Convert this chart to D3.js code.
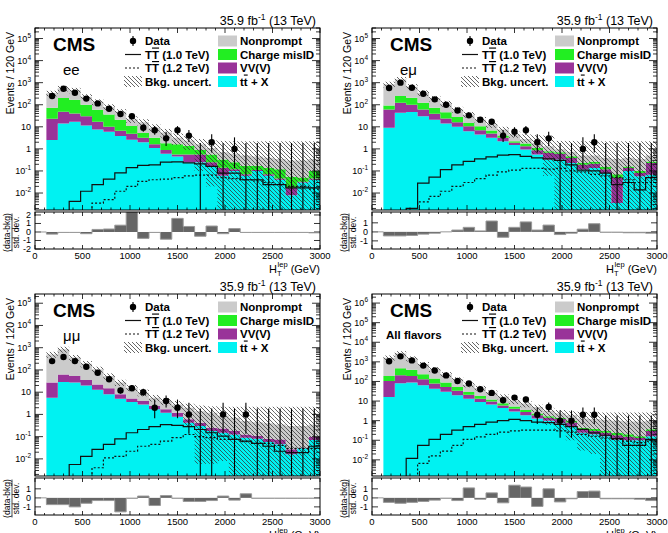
<!DOCTYPE html>
<html>
<head>
<meta charset="utf-8">
<script src="https://cdn.jsdelivr.net/npm/d3@7"></script>
<style>
body { margin: 0; background: #fff; }
svg { display: block; font-family: "Liberation Sans", Arial, Helvetica, sans-serif; }
</style>
</head>
<body>
<svg width="668" height="533"></svg>
<script>
var WIDTH = 668, HEIGHT = 533;
var BIN = 120;
var edges = d3.range(0, 3001, BIN);
var xTicks = [0, 500, 1000, 1500, 2000, 2500, 3000];

// ee
var ee_ttx = [0, 2.5, 14, 17, 11.5, 7.6, 5.9, 3.8, 2.6, 2.0, 1.1, 0.6, 0.45, 0.25, 0.25, 0.15, 0.06, 0.1, 0.06, 0.1, 0.06, 0.04, 0.008, 0.03, 0.04];
var ee_vv = [0, 20.5, 34, 23, 18.5, 9.4, 4.1, 2.8, 2.2, 1.2, 0.5, 0.3, 0.1, 0.3, 0.3, 0.1, 0.08, 0.02, 0.01, 0.01, 0.01, 0.005, 0.009, 0.002, 0.005];
var ee_misid = [0, 50, 152, 130, 70, 43, 26, 14.4, 6.2, 2.1, 1.6, 0.9, 1.05, 0.85, 0.35, 0.3, 0.19, 0.13, 0.1, 0.06, 0.07, 0.075, 0.038, 0.018, 0.055];
var ee_np = [0, 257, 360, 280, 130, 75, 44, 27, 11, 10.7, 5.8, 3.7, 1.6, 1.0, 0.7, 0.55, 0.37, 0.35, 0.33, 0.28, 0.26, 0.23, 0.245, 0.25, 0.25];
var ee_bandHi = [0, 430, 720, 580, 300, 175, 105, 63, 30, 22, 13, 8, 5, 3.8, 2.8, 2.4, 2.3, 2.2, 2.2, 2.2, 2.2, 2.2, 2.2, 2.2, 2.2];
var ee_bandLo = [0, 240, 400, 330, 165, 95, 57, 34, 15, 11, 6, 3.2, 1.5, 0.9, 0.1, 0.02, 0, 0, 0, 0, 0, 0, 0, 0, 0];
var ee_tt10 = [0, 0, 0, 0.0042, 0.012, 0.024, 0.043, 0.081, 0.14, 0.18, 0.19, 0.25, 0.26, 0.23, 0.21, 0.16, 0.08, 0.08, 0.04, 0.04, 0.024, 0.024, 0.017, 0.017, 0.017];
var ee_tt12 = [0, 0, 0, 0, 0, 0.0035, 0.005, 0.012, 0.02, 0.034, 0.04, 0.043, 0.05, 0.06, 0.065, 0.065, 0.05, 0.045, 0.04, 0.035, 0.03, 0.025, 0.02, 0.02, 0.015];
var ee_data = [null, 250, 530, 350, 190, 115, 66, 38, 30, 9, 7, 3, 7, 4, 0, 2, 0, 1, 0, 0, 0, 0, 0, 0, 0];
var ee_pull = [0, -0.25, -0.05, -0.05, -0.2, 0.3, 0.35, 0.8, 2.5, -0.75, -0.05, -0.85, 1.6, 0.65, -0.5, 0.7, -0.2, 0.4, -0.05, -0.05, -0.05, -0.05, -0.05, -0.05, -0.1];

// e mu
var em_ttx = [0, 9, 43, 47, 30, 21, 14, 10, 6.3, 4.5, 3.2, 2.2, 1.5, 0.93, 0.55, 0.33, 0.33, 0.23, 0.115, 0.137, 0.08, 0.0035, 0.1, 0.057, 0.068];
var em_vv = [0, 52, 80, 53, 31, 18, 10, 6, 4.4, 2.5, 1.8, 1.0, 0.4, 0.37, 0.32, 0.33, 0.27, 0.16, 0.075, 0.073, 0.04, 0.0445, 0.037, 0.023, 0.162];
var em_misid = [0, 32, 127, 110, 62, 34, 22, 12, 4.3, 3.7, 1.8, 0.8, 0.3, 0.45, 0.23, 0.12, 0.1, 0.07, 0.04, 0.05, 0.03, 0.022, 0.023, 0.02, 0.04];
var em_np = [0, 747, 1150, 450, 227, 122, 69, 33, 21, 10.3, 5.9, 3.6, 2.3, 1.05, 0.8, 0.52, 0.25, 0.29, 0.27, 0.24, 0.25, 0.28, 0.24, 0.25, 0.23];
var em_bandHi = [0, 1100, 1800, 860, 450, 250, 150, 80, 47, 28, 17, 10, 6, 4.5, 4.2, 4, 2.3, 2.3, 2.2, 2.2, 2.2, 2.2, 2.2, 2.2, 2.2];
var em_bandLo = [0, 600, 1000, 480, 250, 140, 80, 44, 26, 15, 9, 5.5, 3.2, 1.8, 0.6, 0.06, 0, 0, 0, 0, 0, 0, 0, 0, 0];
var em_tt10 = [0, 0, 0, 0.002, 0.028, 0.053, 0.115, 0.19, 0.27, 0.35, 0.43, 0.52, 0.55, 0.46, 0.39, 0.35, 0.3, 0.19, 0.11, 0.1, 0.08, 0.024, 0.03, 0.014, 0.05];
var em_tt12 = [0, 0, 0, 0, 0.004, 0.007, 0.012, 0.02, 0.03, 0.045, 0.065, 0.09, 0.11, 0.13, 0.13, 0.12, 0.13, 0.1, 0.09, 0.07, 0.06, 0.05, 0.04, 0.03, 0.03];
var em_data = [null, 570, 1000, 590, 315, 175, 100, 55, 33, 21, 17, 4, 6, 7, 2, 3, 0, 0, 1, 2, 0, 0, 0, 0, 0];
var em_pull = [0, -0.45, -0.45, -0.4, -0.25, -0.15, 0, 0.2, 0.5, 0.1, 1.2, -0.6, 0.5, 1.1, 0.2, 0.75, -0.3, -0.15, 0.3, 0.9, -0.05, -0.05, -0.1, -0.1, -0.15];

// mu mu
var mm_ttx = [0, 5.6, 29, 27, 20, 13, 8, 5, 3.6, 2.8, 1.7, 1.2, 0.79, 0.42, 0.3, 0.18, 0.15, 0.125, 0.09, 0.08, 0.057, 0.045, 0.016, 0.03, 0.07];
var mm_vv = [0, 21.4, 34, 26, 15, 9, 7, 3, 1.6, 1.2, 0.7, 0.5, 0.41, 0.18, 0.12, 0.07, 0.08, 0.055, 0.035, 0.03, 0.023, 0.03, 0.011, 0.002, 0.03];
var mm_misid = [0, 0, 0, 0, 0, 0, 0, 0, 0, 0, 0, 0, 0, 0, 0, 0, 0, 0, 0, 0, 0, 0, 0, 0, 0];
var mm_np = [0, 473, 787, 307, 155, 85, 38, 19, 10.8, 5.5, 3.2, 2.3, 1.6, 1.4, 0.98, 0.95, 0.67, 0.52, 0.375, 0.34, 0.32, 0.275, 0.273, 0.268, 0.25];
var mm_bandHi = [0, 650, 1100, 470, 250, 140, 70, 36, 21, 13, 7.5, 5.5, 4, 3, 2.5, 2.3, 2.2, 2.2, 2.2, 2.2, 2.2, 2.2, 2.2, 2.2, 2.2];
var mm_bandLo = [0, 350, 600, 250, 130, 75, 37, 19, 11, 6.5, 3.8, 2.6, 1.6, 0.3, 0.006, 0.006, 0.008, 0, 0, 0, 0, 0, 0, 0, 0];
var mm_tt10 = [0, 0, 0, 0.0056, 0.013, 0.027, 0.045, 0.08, 0.15, 0.21, 0.28, 0.35, 0.32, 0.28, 0.21, 0.15, 0.105, 0.075, 0.063, 0.05, 0.037, 0.022, 0.019, 0.019, 0.037];
var mm_tt12 = [0, 0, 0, 0, 0, 0.004, 0.011, 0.013, 0.022, 0.037, 0.045, 0.063, 0.09, 0.125, 0.1, 0.09, 0.075, 0.075, 0.06, 0.05, 0.05, 0.04, 0.03, 0.03, 0.03];
var mm_data = [null, 250, 380, 250, 140, 75, 38, 12, 15, 10, 2, 4, 2, 1, 0, 0, 1, 0, 1, 0, 0, 0, 0, 0, 0];
var mm_pull = [0, -0.75, -0.75, -1.0, -0.6, -0.3, -0.3, -1.55, -0.05, 0.2, -0.85, 0.25, -0.05, -0.4, -0.4, -0.3, 0.2, -0.25, 0.45, -0.05, -0.05, -0.05, -0.05, -0.05, -0.05];

// all flavors
var all_ttx = [0, 16, 81, 88, 64, 43, 30, 20, 13, 9, 6.6, 4.4, 2.9, 1.9, 1.3, 1.0, 0.73, 0.53, 0.24, 0.2, 0.16, 0.11, 0.1, 0.1, 0.16];
var all_vv = [0, 91, 129, 102, 66, 35, 22, 14, 8, 4, 2.8, 1.6, 1.2, 0.9, 0.6, 0.4, 0.47, 0.27, 0.12, 0.1, 0.08, 0.07, 0.05, 0.03, 0.14];
var all_misid = [0, 83, 260, 200, 105, 62, 36, 18, 8, 5, 2.6, 1.7, 1.1, 0.7, 0.4, 0.3, 0.2, 0.2, 0.08, 0.09, 0.06, 0.06, 0.05, 0.03, 0.06];
var all_np = [0, 1410, 2230, 1090, 525, 280, 147, 78, 41, 29, 15, 9.3, 5.3, 4.0, 2.7, 1.5, 1.0, 0.9, 0.86, 0.81, 0.8, 0.76, 0.7, 0.74, 0.64];
var all_bandHi = [0, 2100, 3500, 1900, 980, 540, 300, 165, 90, 60, 35, 22, 14, 10, 6.5, 4.5, 3.5, 3, 2.8, 2.8, 2.6, 2.6, 2.6, 2.6, 2.6];
var all_bandLo = [0, 1150, 1900, 1050, 540, 300, 170, 95, 50, 34, 19, 12, 7, 4.8, 2.8, 0.6, 0.3, 0.1, 0.03, 0.02, 0, 0, 0, 0, 0];
var all_tt10 = [0, 0, 0, 0.012, 0.055, 0.11, 0.2, 0.33, 0.5, 0.65, 0.85, 1.0, 1.17, 1.0, 0.85, 0.8, 0.65, 0.5, 0.36, 0.24, 0.18, 0.12, 0.055, 0.055, 0.11];
var all_tt12 = [0, 0, 0, 0, 0.0066, 0.016, 0.028, 0.055, 0.11, 0.15, 0.2, 0.26, 0.3, 0.33, 0.33, 0.33, 0.3, 0.26, 0.2, 0.16, 0.13, 0.11, 0.09, 0.075, 0.09];
var all_data = [null, 1070, 1910, 1190, 645, 365, 204, 105, 78, 40, 26, 11, 15, 12, 2, 5, 1, 1, 2, 2, 0, 0, 0, 0, 0];
var all_pull = [0, -0.5, -0.6, -0.5, -0.4, -0.25, -0.05, -0.3, 1.1, -0.15, 0.55, -0.55, 1.4, 1.2, -0.95, 1.0, -0.45, -0.1, 0.7, 0.75, -0.1, -0.1, -0.1, -0.15, -0.3];

var colors = { ttx: '#00f2f2', vv: '#993399', misid: '#22ee22', np: '#cbcbcb' };
var legendLeft = ['Data', 'TT 1.0', 'TT 1.2', 'Bkg. uncert.'];
var legendRight = [['np', 'Nonprompt'], ['misid', 'Charge misID'], ['vv', 'VV(V)'], ['ttx', 'tt + X']];

var channels = [
    { id: 'ee', label: 'ee', boldLabel: false, left: 35, oy: 0, dom: [0.0017, 3e5], pullDom: [-2, 2.35], pullTicks: [-2, -1, 0, 1, 2],
      ttx: ee_ttx, vv: ee_vv, misid: ee_misid, np: ee_np, hi: ee_bandHi, lo: ee_bandLo, tt10: ee_tt10, tt12: ee_tt12, data: ee_data, pull: ee_pull },
    { id: 'em', label: 'e\u03bc', boldLabel: false, left: 372, oy: 0, dom: [0.0017, 3e5], pullDom: [-1.9, 2.2], pullTicks: [-1, 0, 1],
      ttx: em_ttx, vv: em_vv, misid: em_misid, np: em_np, hi: em_bandHi, lo: em_bandLo, tt10: em_tt10, tt12: em_tt12, data: em_data, pull: em_pull },
    { id: 'mm', label: '\u03bc\u03bc', boldLabel: false, left: 35, oy: 266, dom: [0.0017, 2.6e5], pullDom: [-1.9, 2.2], pullTicks: [-1, 0, 1],
      ttx: mm_ttx, vv: mm_vv, misid: mm_misid, np: mm_np, hi: mm_bandHi, lo: mm_bandLo, tt10: mm_tt10, tt12: mm_tt12, data: mm_data, pull: mm_pull },
    { id: 'all', label: 'All flavors', boldLabel: true, left: 372, oy: 266, dom: [0.0015, 2.9e6], pullDom: [-1.9, 2.2], pullTicks: [-1, 0, 1],
      ttx: all_ttx, vv: all_vv, misid: all_misid, np: all_np, hi: all_bandHi, lo: all_bandLo, tt10: all_tt10, tt12: all_tt12, data: all_data, pull: all_pull }
];

var svg = d3.select('svg').attr('width', WIDTH).attr('height', HEIGHT);
var defs = svg.append('defs');
var hatch = defs.append('pattern').attr('id', 'hatch')
    .attr('patternUnits', 'userSpaceOnUse').attr('width', 4).attr('height', 4);
hatch.append('path').attr('d', 'M-1,3 l2,2 M0,0 l4,4 M3,-1 l2,2')
    .attr('stroke', '#333').attr('stroke-width', 0.75);

function errUp(n) { return n + Math.sqrt(n + 0.75) + 1; }
function errLo(n) { return n > 0 ? n - Math.sqrt(n - 0.25) : 0; }

function ttbar(sel, mass) {
    sel.append('tspan').text('T');
    sel.append('tspan').style('text-decoration', 'overline').text('T');
    sel.append('tspan').text(' (' + mass + ' TeV)');
}

function drawPanel(c) {
    var g = svg.append('g').attr('transform', 'translate(0,' + c.oy + ')');
    var L = c.left, R = c.left + 285;
    var TOP = 28, BOT = 210, RTOP = 212, RBOT = 249;
    var x = d3.scaleLinear().domain([0, 3000]).range([L, R]);
    var y = d3.scaleLog().domain(c.dom).range([BOT, TOP]);
    var r = d3.scaleLinear().domain(c.pullDom).range([RBOT, RTOP]);
    var yc = function(v) { return v > c.dom[0] ? y(v) : BOT + 5; };

    // clip rects live in the group's own (translated) space
    defs.append('clipPath').attr('id', 'clip-' + c.id)
        .append('rect').attr('x', L).attr('y', TOP).attr('width', 285).attr('height', BOT - TOP);
    defs.append('clipPath').attr('id', 'rclip-' + c.id)
        .append('rect').attr('x', L).attr('y', RTOP).attr('width', 285).attr('height', RBOT - RTOP);

    var plot = g.append('g').attr('clip-path', 'url(#clip-' + c.id + ')');

    // stacked backgrounds
    var rows = edges.map(function(e, i) {
        var k = Math.min(i, 24);
        return { x0: e, ttx: c.ttx[k], vv: c.vv[k], misid: c.misid[k], np: c.np[k] };
    });
    var stack = d3.stack().keys(['ttx', 'vv', 'misid', 'np'])(rows);
    var area = d3.area().curve(d3.curveStepAfter)
        .x(function(d) { return x(d.data.x0); })
        .y0(function(d) { return yc(d[0]); })
        .y1(function(d) { return d[1] > d[0] ? yc(d[1]) : yc(d[0]); });
    plot.selectAll('path.layer').data(stack).enter().append('path')
        .attr('class', 'layer')
        .attr('fill', function(d) { return colors[d.key]; })
        .attr('d', area);

    // uncertainty band
    plot.selectAll('rect.band').data(c.hi.map(function(h, i) { return { i: i, hi: h, lo: c.lo[i] }; })
        .filter(function(d) { return d.hi > 0; }))
        .enter().append('rect').attr('class', 'band')
        .attr('x', function(d) { return x(edges[d.i]); })
        .attr('width', x(BIN) - x(0))
        .attr('y', function(d) { return y(d.hi); })
        .attr('height', function(d) { return yc(d.lo) - y(d.hi); })
        .attr('fill', 'url(#hatch)');

    // signal lines
    var sigLine = d3.line().curve(d3.curveStepAfter)
        .x(function(d, i) { return x(edges[i]); })
        .y(function(d) { return yc(d); });
    [[c.tt10, null], [c.tt12, '2,2']].forEach(function(s) {
        var vals = s[0].concat([s[0][24]]);
        plot.append('path').attr('d', sigLine(vals))
            .attr('fill', 'none').attr('stroke', '#111').attr('stroke-width', 1.2)
            .attr('stroke-dasharray', s[1]);
    });

    // data
    var pts = c.data.map(function(n, i) { return { n: n, i: i }; }).filter(function(d) { return d.n !== null; });
    plot.selectAll('line.err').data(pts).enter().append('line')
        .attr('x1', function(d) { return x(edges[d.i] + BIN / 2); })
        .attr('x2', function(d) { return x(edges[d.i] + BIN / 2); })
        .attr('y1', function(d) { return y(d.n > 0 ? errUp(d.n) : 1.84); })
        .attr('y2', function(d) { return yc(errLo(d.n)); })
        .attr('stroke', '#000').attr('stroke-width', 1.1);
    plot.selectAll('circle.pt').data(pts.filter(function(d) { return d.n > 0; })).enter().append('circle')
        .attr('cx', function(d) { return x(edges[d.i] + BIN / 2); })
        .attr('cy', function(d) { return y(d.n); })
        .attr('r', 3.2).attr('fill', '#000');

    // frame + ticks (main)
    g.append('rect').attr('x', L).attr('y', TOP).attr('width', 285).attr('height', BOT - TOP)
        .attr('fill', 'none').attr('stroke', '#000').attr('stroke-width', 1);
    var ticks = g.append('g').attr('stroke', '#000').attr('stroke-width', 0.8);
    var k0 = Math.ceil(Math.log10(c.dom[0])), k1 = Math.floor(Math.log10(c.dom[1]));
    var decades = d3.range(k0 - 1, k1 + 1);
    decades.forEach(function(k) {
        for (var m = 1; m < 10; m++) {
            var v = m * Math.pow(10, k);
            if (v < c.dom[0] || v > c.dom[1]) continue;
            var len = m === 1 ? 8 : 4;
            ticks.append('line').attr('x1', L).attr('x2', L + len).attr('y1', y(v)).attr('y2', y(v));
            ticks.append('line').attr('x1', R).attr('x2', R - len).attr('y1', y(v)).attr('y2', y(v));
        }
    });
    d3.range(0, 3001, 100).forEach(function(t) {
        var len = t % 500 === 0 ? 5 : 2.5;
        ticks.append('line').attr('x1', x(t)).attr('x2', x(t)).attr('y1', BOT).attr('y2', BOT - len);
        ticks.append('line').attr('x1', x(t)).attr('x2', x(t)).attr('y1', TOP).attr('y2', TOP + len);
        ticks.append('line').attr('x1', x(t)).attr('x2', x(t)).attr('y1', RBOT).attr('y2', RBOT - len * 0.8);
        ticks.append('line').attr('x1', x(t)).attr('x2', x(t)).attr('y1', RTOP).attr('y2', RTOP + len * 0.8);
    });
    d3.range(k0, k1 + 1).forEach(function(k) {
        var t = g.append('text').attr('x', L - 4).attr('y', y(Math.pow(10, k)) + 3)
            .attr('text-anchor', 'end').attr('font-size', '9px');
        if (k === 0) t.text('1');
        else if (k === 1) t.text('10');
        else {
            t.append('tspan').text('10');
            t.append('tspan').attr('dy', -4).attr('font-size', '6.5px').text(k < 0 ? '-' + (-k) : k);
        }
    });

    // ratio panel
    var rplot = g.append('g').attr('clip-path', 'url(#rclip-' + c.id + ')');
    rplot.selectAll('rect.pull').data(c.pull.map(function(v, i) { return { v: v, i: i }; }))
        .enter().append('rect')
        .attr('x', function(d) { return x(edges[d.i]); })
        .attr('width', x(BIN) - x(0))
        .attr('y', function(d) { return r(Math.max(0, d.v)); })
        .attr('height', function(d) { return Math.abs(r(d.v) - r(0)); })
        .attr('fill', '#666');
    var pullLine = d3.line().curve(d3.curveStepAfter)
        .x(function(d, i) { return x(edges[i]); })
        .y(function(d) { return r(d); });
    rplot.append('path').attr('d', pullLine(c.pull.concat([c.pull[24]])))
        .attr('fill', 'none').attr('stroke', '#999').attr('stroke-width', 1);
    g.append('rect').attr('x', L).attr('y', RTOP).attr('width', 285).attr('height', RBOT - RTOP)
        .attr('fill', 'none').attr('stroke', '#000').attr('stroke-width', 1);
    c.pullTicks.forEach(function(t) {
        ticks.append('line').attr('x1', L).attr('x2', L + 6).attr('y1', r(t)).attr('y2', r(t));
        ticks.append('line').attr('x1', R).attr('x2', R - 6).attr('y1', r(t)).attr('y2', r(t));
        g.append('text').attr('x', L - 4).attr('y', r(t) + 3).attr('text-anchor', 'end')
            .attr('font-size', '9px').text(t);
    });
    xTicks.forEach(function(t) {
        g.append('text').attr('x', x(t)).attr('y', RBOT + 10).attr('text-anchor', 'middle')
            .attr('font-size', '9.5px').text(t);
    });

    // axis titles
    g.append('text').attr('transform', 'translate(' + (L - 21) + ',' + (TOP + 4) + ') rotate(-90)')
        .attr('text-anchor', 'end').attr('font-size', '10.5px').text('Events / 120 GeV');
    var rt = g.append('g').attr('transform', 'translate(' + (L - 25) + ',' + ((RTOP + RBOT) / 2 + 2) + ') rotate(-90)');
    rt.append('text').attr('y', 0).attr('text-anchor', 'middle').attr('font-size', '8.5px').text('(data-bkg)');
    rt.append('line').attr('x1', -19).attr('x2', 19).attr('y1', 2).attr('y2', 2).attr('stroke', '#000').attr('stroke-width', 0.7);
    rt.append('text').attr('y', 9).attr('text-anchor', 'middle').attr('font-size', '8.5px').text('std. dev.');
    var xt = g.append('text').attr('x', R).attr('y', 273).attr('text-anchor', 'end').attr('font-size', '11px');
    xt.append('tspan').text('H');
    xt.append('tspan').attr('dy', 3).attr('font-size', '7.5px').text('T');
    xt.append('tspan').attr('dx', -4).attr('dy', -9).attr('font-size', '7.5px').text('lep');
    xt.append('tspan').attr('dy', 6).text(' (GeV)');

    // header
    var lum = g.append('text').attr('x', R - 4).attr('y', 25).attr('text-anchor', 'end').attr('font-size', '12.5px');
    lum.append('tspan').text('35.9 fb');
    lum.append('tspan').attr('dy', -5).attr('font-size', '8.5px').text('-1');
    lum.append('tspan').attr('dy', 5).text(' (13 TeV)');
    g.append('text').attr('x', L + 18).attr('y', 51).attr('font-size', '19px').attr('font-weight', 'bold').text('CMS');
    if (c.boldLabel) {
        g.append('text').attr('x', L + 14).attr('y', 72.5).attr('font-size', '11.5px').attr('font-weight', 'bold').text(c.label);
    } else {
        g.append('text').attr('x', L + 28).attr('y', 75).attr('font-size', '15px').text(c.label);
    }

    // legend
    var rowsY = [41, 54.5, 68, 81.5];
    var lg = g.append('g').attr('font-size', '11.5px').attr('font-weight', 'bold');
    lg.append('line').attr('x1', L + 98).attr('x2', L + 98).attr('y1', rowsY[0] - 5).attr('y2', rowsY[0] + 5).attr('stroke', '#000').attr('stroke-width', 1.1);
    lg.append('circle').attr('cx', L + 98).attr('cy', rowsY[0]).attr('r', 3.2).attr('fill', '#000');
    lg.append('line').attr('x1', L + 90).attr('x2', L + 106).attr('y1', rowsY[1]).attr('y2', rowsY[1]).attr('stroke', '#111').attr('stroke-width', 1.2);
    lg.append('line').attr('x1', L + 90).attr('x2', L + 106).attr('y1', rowsY[2]).attr('y2', rowsY[2]).attr('stroke', '#111').attr('stroke-width', 1.2).attr('stroke-dasharray', '2,2');
    lg.append('rect').attr('x', L + 89).attr('y', rowsY[3] - 5.5).attr('width', 18).attr('height', 11).attr('fill', 'url(#hatch)');
    lg.append('text').attr('x', L + 110).attr('y', rowsY[0] + 4).text(legendLeft[0]);
    ttbar(lg.append('text').attr('x', L + 110).attr('y', rowsY[1] + 4), '1.0');
    ttbar(lg.append('text').attr('x', L + 110).attr('y', rowsY[2] + 4), '1.2');
    lg.append('text').attr('x', L + 110).attr('y', rowsY[3] + 4).text(legendLeft[3]);
    legendRight.forEach(function(e, i) {
        lg.append('rect').attr('x', L + 183).attr('y', rowsY[i] - 5.5).attr('width', 19).attr('height', 11).attr('fill', colors[e[0]]);
        var t = lg.append('text').attr('x', L + 205).attr('y', rowsY[i] + 4);
        if (e[0] === 'ttx') {
            t.append('tspan').text('t');
            t.append('tspan').style('text-decoration', 'overline').text('t');
            t.append('tspan').text(' + X');
        } else {
            t.text(e[1]);
        }
    });
}

channels.forEach(drawPanel);
</script>
</body>
</html>
